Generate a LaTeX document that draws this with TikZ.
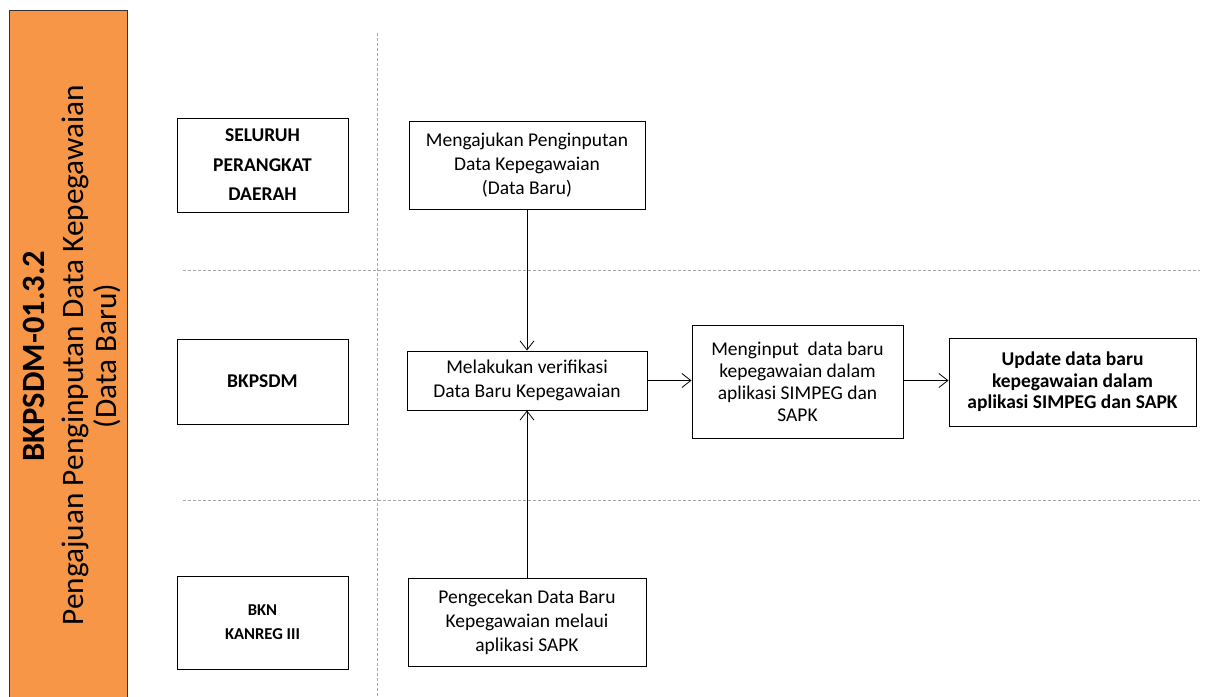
\documentclass[tikz,border=0pt]{standalone}
\usepackage{fontspec}
\setmainfont{Carlito}
\usetikzlibrary{arrows.meta}
\definecolor{barorange}{HTML}{F79646}
\definecolor{sepgray}{HTML}{A6A6A6}
\begin{document}
\begin{tikzpicture}[x=1pt,y=-1pt,
 box/.style={draw=black, line width=1pt, align=center, inner sep=0pt, font=\fontsize{19.5}{24}\selectfont},
 lane/.style={box, font=\bfseries\fontsize{19.5}{29.5}\selectfont},
 arr/.style={-{Straight Barb[length=9pt,width=14pt]}, line width=0.8pt},
 sep/.style={draw=sepgray, line width=0.7pt, dash pattern=on 3pt off 2pt},
 bartext/.style={rotate=90, inner sep=0pt, font=\fontsize{31.3}{36}\selectfont}]
\useasboundingbox (0,0) rectangle (1230,696);
% side bar
\filldraw[fill=barorange, draw=black!80, line width=1pt] (9,10) rectangle (127,720);
\node[bartext, font=\bfseries\fontsize{32.5}{36}\selectfont] (code) at (34,356) {BKPSDM-01.3.2};
\node[bartext] (title1) at (75,355) {Pengajuan Penginputan Data Kepegawaian};
\node[bartext] (title2) at (107,356) {(Data Baru)};
% lane separators
\draw[sep] (377,33) -- (377,696);
\draw[sep] (183,270) -- (1200,270);
\draw[sep] (183,500) -- (1200,500);
% lane labels
\node[lane, minimum width=171pt, minimum height=94pt] (sel) at (262.5,165) {SELURUH\\PERANGKAT\\DAERAH};
\node[lane, minimum width=171pt, minimum height=85pt] (bkp) at (262.5,381.5) {BKPSDM};
\node[lane, minimum width=171pt, minimum height=93pt, font=\bfseries\fontsize{16.6}{24}\selectfont] (bkn) at (262.5,622.5) {BKN\\KANREG III};
% process boxes
\node[box, minimum width=236pt, minimum height=88pt] (ajukan) at (527,165) {Mengajukan Penginputan\\Data Kepegawaian\\(Data Baru)};
\node[box, minimum width=240pt, minimum height=59pt] (verif) at (527,380.5) {Melakukan verifikasi\\Data Baru Kepegawaian};
\node[box, minimum width=211pt, minimum height=113pt, font=\fontsize{19.5}{22}\selectfont] (input) at (797.5,381.5) {Menginput \ data baru\\kepegawaian dalam\\aplikasi SIMPEG dan\\SAPK};
\node[box, minimum width=247pt, minimum height=88pt, font=\bfseries\fontsize{19.5}{21.5}\selectfont] (update) at (1072.5,382) {Update data baru\\kepegawaian dalam\\aplikasi SIMPEG dan SAPK};
\node[box, minimum width=238pt, minimum height=88pt] (cek) at (527,622) {Pengecekan Data Baru\\Kepegawaian melaui\\aplikasi SAPK};
% connectors
\draw[arr] (ajukan.south) -- (verif.north);
\draw[arr] (cek.north) -- (verif.south);
\draw[arr] (verif.east) -- (verif.east -| input.west);
\draw[arr] (input.east |- verif.east) -- (verif.east -| update.west);
\end{tikzpicture}
\end{document}
